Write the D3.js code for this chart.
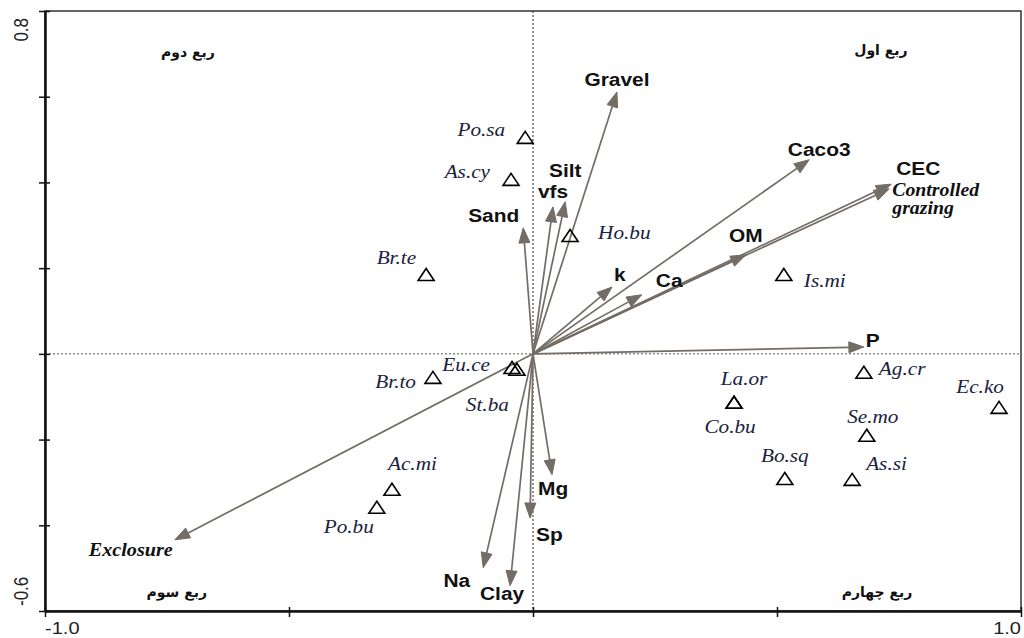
<!DOCTYPE html>
<html>
<head>
<meta charset="utf-8">
<script src="https://cdn.jsdelivr.net/npm/d3@7"></script>
<style>
    body { margin: 0; background: #fff; }
    svg { display: block; }
    .env { font-family: "Liberation Sans", Arial, sans-serif; font-weight: bold; font-size: 19px; fill: #111; }
    .spp { font-family: "Liberation Serif", "Times New Roman", serif; font-style: italic; font-size: 18px; fill: #1a2240; }
    .trt { font-family: "Liberation Serif", "Times New Roman", serif; font-style: italic; font-weight: bold; font-size: 18px; fill: #111; }
    .quad { font-family: "DejaVu Sans", sans-serif; font-weight: bold; font-size: 14px; fill: #111; }
    .tick { font-family: "Liberation Sans", Arial, sans-serif; font-size: 17px; fill: #222; }
</style>
</head>
<body>
<div id="chart"></div>
<script>
// soil variables (arrows)
var envNames = ['Gravel', 'Silt', 'vfs', 'Sand', 'k', 'Ca', 'OM', 'Caco3', 'CEC', 'P', 'Mg', 'Sp', 'Na', 'Clay'];
var envX = [0.172, 0.066, 0.041, -0.020, 0.162, 0.223, 0.436, 0.566, 0.734, 0.678, 0.039, -0.006, -0.102, -0.047];
var envY = [0.611, 0.355, 0.343, 0.294, 0.156, 0.138, 0.231, 0.453, 0.396, 0.016, -0.282, -0.383, -0.499, -0.541];

// treatments (arrows)
var trtNames = ['Exclosure', 'Controlled grazing'];
var trtX = [-0.734, 0.730];
var trtY = [-0.434, 0.385];

// species (triangles)
var sppNames = ['Po.sa', 'As.cy', 'Ho.bu', 'Br.te', 'Is.mi', 'Eu.ce', 'St.ba', 'Br.to', 'Ac.mi', 'Po.bu',
    'La.or', 'Co.bu', 'Ag.cr', 'Ec.ko', 'Se.mo', 'Bo.sq', 'As.si'];
var sppX = [-0.016, -0.045, 0.076, -0.219, 0.514, -0.043, -0.033, -0.205, -0.289, -0.320,
    0.412, 0.412, 0.678, 0.955, 0.684, 0.516, 0.654];
var sppY = [0.504, 0.406, 0.275, 0.184, 0.184, -0.033, -0.037, -0.056, -0.317, -0.359,
    -0.114, -0.114, -0.044, -0.126, -0.191, -0.292, -0.294];

// quadrant captions
var quadNames = ['ربع اول', 'ربع دوم', 'ربع سوم', 'ربع چهارم'];
var quadX = [0.713, -0.707, -0.730, 0.705];
var quadY = [0.697, 0.693, -0.567, -0.567];

var xTicks = [-1.0, -0.5, 0, 0.5, 1.0];
var yTicks = [-0.6, -0.4, -0.2, 0, 0.2, 0.4, 0.6, 0.8];

// label placement, pixels from the mark
var envLabel = {
    'Gravel': [0, -6, 'middle'], 'Silt': [0, -25, 'middle'], 'vfs': [0, -9, 'middle'],
    'Sand': [-4, -6, 'end'], 'k': [2, -6, 'start'], 'Ca': [14, -8, 'start'],
    'OM': [0, -13, 'middle'], 'Caco3': [10, -4, 'middle'], 'CEC': [5, -9, 'start'],
    'P': [2, 0, 'start'], 'Mg': [-14, 20, 'start'], 'Sp': [6, 23, 'start'],
    'Na': [-13, 19, 'end'], 'Clay': [-8, 14, 'middle'],
    'Exclosure': [-2, 16, 'end'], 'Controlled grazing': [3, 7, 'start']
};
var sppLabel = {
    'Po.sa': [-20, -2, 'end'], 'As.cy': [-21, -2, 'end'], 'Ho.bu': [28, 3, 'start'],
    'Br.te': [-10, -11, 'end'], 'Is.mi': [20, 12, 'start'], 'Eu.ce': [-22, 3, 'end'],
    'St.ba': [-8, 41, 'end'], 'Br.to': [-17, 10, 'end'], 'Ac.mi': [-4, -20, 'start'],
    'Po.bu': [-3, 25, 'end'], 'La.or': [10, -18, 'middle'], 'Co.bu': [-4, 30, 'middle'],
    'Ag.cr': [15, 2, 'start'], 'Ec.ko': [-19, -15, 'middle'], 'Se.mo': [6, -13, 'middle'],
    'Bo.sq': [0, -17, 'middle'], 'As.si': [14, -10, 'start']
};

var width = 1024;
var height = 638;
var margin = {top: 11, right: 3, bottom: 27, left: 45};
var stretch = 1.18;
var arrowColor = '#736d66';

var xScale = d3.scaleLinear()
    .domain([-1, 1])
    .range([margin.left, width - margin.right]);

var yScale = d3.scaleLinear()
    .domain([-0.6, 0.8])
    .range([height - margin.bottom, margin.top]);

var svg = d3.select('#chart')
    .append('svg')
    .attr('width', width)
    .attr('height', height);

var addText = function (x, y, txt, cls, anchor, sx, rot) {
    return svg.append('text')
        .attr('class', cls)
        .attr('transform', 'translate(' + x + ',' + y + ') scale(' + sx + ',1)' + (rot ? ' rotate(' + rot + ')' : ''))
        .style('text-anchor', anchor)
        .text(txt);
};

// frame
svg.append('rect')
    .attr('x', xScale(-1))
    .attr('y', yScale(0.8))
    .attr('width', xScale(1) - xScale(-1))
    .attr('height', yScale(-0.6) - yScale(0.8))
    .attr('fill', 'none')
    .attr('stroke', '#333')
    .attr('stroke-width', 1.5);

// zero lines
svg.append('line')
    .attr('x1', xScale(-1)).attr('x2', xScale(1))
    .attr('y1', yScale(0)).attr('y2', yScale(0))
    .attr('stroke', '#555').attr('stroke-width', 1)
    .attr('stroke-dasharray', '2,2');

svg.append('line')
    .attr('x1', xScale(0)).attr('x2', xScale(0))
    .attr('y1', yScale(0.8)).attr('y2', yScale(-0.6))
    .attr('stroke', '#222').attr('stroke-width', 1)
    .attr('stroke-dasharray', '2,2');

// axes with ticks crossing the line
var drawAxis = function (axis, transform, size) {
    var g = svg.append('g')
        .attr('transform', transform)
        .call(axis.tickSize(size).tickSizeOuter(0).tickFormat(''));
    g.selectAll('line').attr('stroke', '#111').attr('stroke-width', 1.5);
    g.select('.domain').attr('stroke', '#111').attr('stroke-width', 2);
    return g;
};

drawAxis(d3.axisLeft(yScale).tickValues(yTicks), 'translate(' + margin.left + ',0)', 6);
drawAxis(d3.axisRight(yScale).tickValues(yTicks), 'translate(' + margin.left + ',0)', 5);
drawAxis(d3.axisBottom(xScale).tickValues(xTicks), 'translate(0,' + yScale(-0.6) + ')', 6);
drawAxis(d3.axisTop(xScale).tickValues(xTicks), 'translate(0,' + yScale(-0.6) + ')', 4);

addText(xScale(-1), height - 4, '-1.0', 'tick', 'start', stretch);
addText(xScale(1), height - 4, '1.0', 'tick', 'end', stretch);
addText(28, yScale(0.8) + 7, '0.8', 'tick', 'end', stretch, -90);
addText(28, yScale(-0.6) - 5, '-0.6', 'tick', 'start', stretch, -90);

// quadrant captions
quadNames.forEach(function (q, i) {
    svg.append('text')
        .attr('class', 'quad')
        .attr('x', xScale(quadX[i]))
        .attr('y', yScale(quadY[i]))
        .attr('direction', 'rtl')
        .style('text-anchor', 'middle')
        .text(q);
});

// arrows
var drawArrow = function (vx, vy) {
    var x0 = xScale(0), y0 = yScale(0);
    var x1 = xScale(vx), y1 = yScale(vy);
    var ang = Math.atan2(y1 - y0, x1 - x0);
    var len = 15, half = 5.5;
    var bx = x1 - len * Math.cos(ang), by = y1 - len * Math.sin(ang);
    svg.append('line')
        .attr('x1', x0).attr('y1', y0)
        .attr('x2', bx).attr('y2', by)
        .attr('stroke', arrowColor)
        .attr('stroke-width', 1.7);
    svg.append('path')
        .attr('d', d3.line()([
            [x1, y1],
            [bx + half * Math.sin(ang), by - half * Math.cos(ang)],
            [bx - half * Math.sin(ang), by + half * Math.cos(ang)]
        ]) + 'Z')
        .attr('fill', arrowColor)
        .attr('stroke', arrowColor)
        .attr('stroke-width', 1);
};

trtNames.forEach(function (n, i) {
    drawArrow(trtX[i], trtY[i]);
});
envNames.forEach(function (n, i) {
    drawArrow(envX[i], envY[i]);
});

// species
var tri = 'M0,-6.5L8,5.5L-8,5.5Z';
sppNames.forEach(function (n, i) {
    svg.append('path')
        .attr('d', tri)
        .attr('transform', 'translate(' + xScale(sppX[i]) + ',' + yScale(sppY[i]) + ')')
        .attr('fill', 'none')
        .attr('stroke', '#000')
        .attr('stroke-width', 1.6);
    var o = sppLabel[n];
    addText(xScale(sppX[i]) + o[0], yScale(sppY[i]) + o[1], n, 'spp', o[2], stretch);
});

// arrow labels
envNames.forEach(function (n, i) {
    var o = envLabel[n];
    addText(xScale(envX[i]) + o[0], yScale(envY[i]) + o[1], n, 'env', o[2], 1.1);
});

var ex = envLabel['Exclosure'];
addText(xScale(trtX[0]) + ex[0], yScale(trtY[0]) + ex[1], 'Exclosure', 'trt', ex[2], 1.12);
var cg = envLabel['Controlled grazing'];
addText(xScale(trtX[1]) + cg[0], yScale(trtY[1]) + cg[1], 'Controlled', 'trt', cg[2], 1.1);
addText(xScale(trtX[1]) + cg[0], yScale(trtY[1]) + cg[1] + 18, 'grazing', 'trt', cg[2], 1.1);
</script>
</body>
</html>
